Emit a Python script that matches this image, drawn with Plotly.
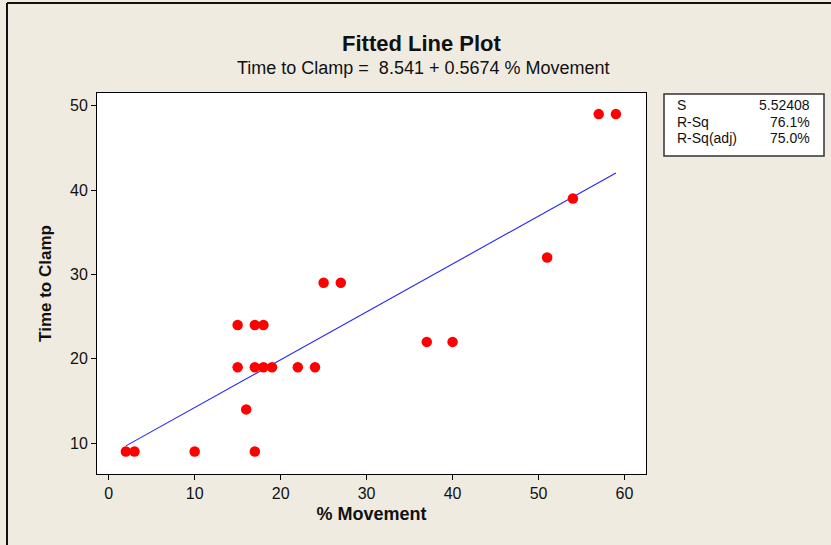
import plotly.graph_objects as go

# Data
movement = [2, 3, 10, 17, 16, 15, 17, 18, 19, 22, 24, 15, 17, 18, 25, 27, 37, 40, 51, 54, 57, 59]
time_to_clamp = [9, 9, 9, 9, 14, 19, 19, 19, 19, 19, 19, 24, 24, 24, 29, 29, 22, 22, 32, 39, 49, 49]

intercept = 8.541
slope = 0.5674
fit_x = [min(movement), max(movement)]
fit_y = [intercept + slope * v for v in fit_x]

stat_labels = ["S", "R-Sq", "R-Sq(adj)"]
stat_values = ["5.52408", "76.1%", "75.0%"]

x_ticks = [0, 10, 20, 30, 40, 50, 60]
y_ticks = [10, 20, 30, 40, 50]

FONT = "Liberation Sans"
TXT = "#111111"

fig = go.Figure()
fig.add_trace(go.Scatter(x=fit_x, y=fit_y, mode="lines",
                         line=dict(color="#2222ff", width=1.1), showlegend=False))
fig.add_trace(go.Scatter(x=movement, y=time_to_clamp, mode="markers",
                         marker=dict(color="#ff0000", size=10.5, line=dict(width=0)),
                         showlegend=False))

W, H = 831, 545
L, R, T, B = 97, 831 - 646, 93, 545 - 474
pw, ph = W - L - R, H - T - B

def px(xpix):
    return (xpix - L) / pw

def py(ypix):
    return 1 - (ypix - T) / ph

annotations = [
    dict(text="<b>Fitted Line Plot</b>", x=px(422), y=py(44), xref="paper", yref="paper",
         showarrow=False, font=dict(family=FONT, size=22, color=TXT), xanchor="center", yanchor="middle"),
    dict(text="Time to Clamp =  8.541 + 0.5674 % Movement", x=px(423), y=py(68), xref="paper", yref="paper",
         showarrow=False, font=dict(family=FONT, size=18, color=TXT), xanchor="center", yanchor="middle"),
]
row_y = [105, 122, 138]
for lab, val, ry in zip(stat_labels, stat_values, row_y):
    annotations.append(dict(text=lab, x=px(675), y=py(ry), xref="paper", yref="paper", showarrow=False,
                            xanchor="left", yanchor="middle", font=dict(family=FONT, size=14, color=TXT)))
    annotations.append(dict(text=val, x=px(812), y=py(ry), xref="paper", yref="paper", showarrow=False,
                            xanchor="right", yanchor="middle", font=dict(family=FONT, size=14, color=TXT)))

shapes = [
    dict(type="rect", xref="paper", yref="paper", x0=px(664), x1=px(824), y0=py(156), y1=py(94),
         line=dict(color="#333333", width=1.5), fillcolor="white", layer="below"),
    dict(type="line", xref="paper", yref="paper", x0=px(7), x1=px(7), y0=py(3), y1=py(545),
         line=dict(color="#111111", width=2)),
    dict(type="line", xref="paper", yref="paper", x0=px(7), x1=px(831), y0=py(3), y1=py(3),
         line=dict(color="#111111", width=2)),
]

fig.update_layout(
    width=W, height=H,
    margin=dict(l=L, r=R, t=T, b=B),
    paper_bgcolor="#efebe1", plot_bgcolor="white",
    annotations=annotations, shapes=shapes,
    font=dict(family=FONT, color=TXT),
)
fig.update_xaxes(range=[-1.36, 62.5], tickvals=x_ticks, showgrid=False, zeroline=False,
                 showline=True, linecolor="black", linewidth=1, mirror=True,
                 ticks="outside", ticklen=5, tickcolor="black",
                 tickfont=dict(family=FONT, size=16, color=TXT),
                 title=dict(text="<b>% Movement</b>", font=dict(family=FONT, size=18, color=TXT), standoff=6))
fig.update_yaxes(range=[6.34, 51.5], tickvals=y_ticks, showgrid=False, zeroline=False,
                 showline=True, linecolor="black", linewidth=1, mirror=True,
                 ticks="outside", ticklen=5, tickcolor="black",
                 tickfont=dict(family=FONT, size=16, color=TXT),
                 title=dict(text="<b>Time to Clamp</b>", font=dict(family=FONT, size=17, color=TXT), standoff=14))

fig.write_html("out.html")
